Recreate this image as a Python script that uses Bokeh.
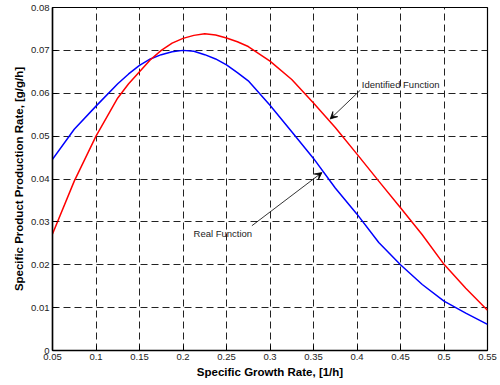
from bokeh.plotting import figure
from bokeh.models import Range1d, FixedTicker, PrintfTickFormatter, Arrow, VeeHead, Label
from bokeh.embed import file_html
from bokeh.resources import INLINE

# Specific growth rate [1/h]
mu = [0.05, 0.075, 0.10, 0.125, 0.1375, 0.15, 0.1625, 0.175, 0.1875, 0.20, 0.2125,
      0.225, 0.2375, 0.25, 0.2625, 0.275, 0.30, 0.325, 0.35, 0.375, 0.40, 0.425,
      0.45, 0.475, 0.50, 0.525, 0.55]
# Real function (blue)
real_fn = [0.0446, 0.0516, 0.0570, 0.0622, 0.0645, 0.0665, 0.0680, 0.0690, 0.0697,
           0.0700, 0.0698, 0.0690, 0.0680, 0.0666, 0.0648, 0.0629, 0.0572, 0.0510,
           0.0448, 0.0379, 0.0318, 0.0252, 0.0200, 0.0154, 0.0115, 0.0087, 0.0061]
# Identified function (red)
ident_fn = [0.0272, 0.0395, 0.0500, 0.0589, 0.0622, 0.0650, 0.0678, 0.0700, 0.0717,
            0.0728, 0.0735, 0.0739, 0.0736, 0.0729, 0.0720, 0.0709, 0.0675, 0.0632,
            0.0577, 0.0520, 0.0458, 0.0395, 0.0333, 0.0270, 0.0201, 0.0145, 0.0094]

x_ticks = [0.05, 0.1, 0.15, 0.2, 0.25, 0.3, 0.35, 0.4, 0.45, 0.5, 0.55]
y_ticks = [0.0, 0.01, 0.02, 0.03, 0.04, 0.05, 0.06, 0.07, 0.08]

FONT = "Liberation Sans"

p = figure(width=500, height=385, output_backend="svg", toolbar_location=None,
           x_range=Range1d(0.05, 0.55), y_range=Range1d(0.0, 0.08),
           min_border_left=52, min_border_right=13, min_border_top=7, min_border_bottom=35)
p.background_fill_color = "white"
p.border_fill_color = "white"
p.outline_line_color = "black"
p.outline_line_width = 1.2

for ax, ticks in ((p.xaxis[0], x_ticks), (p.yaxis[0], y_ticks)):
    ax.ticker = FixedTicker(ticks=ticks)
    ax.formatter = PrintfTickFormatter(format="%.6g")
    ax.major_tick_in = 5
    ax.major_tick_out = 0
    ax.minor_tick_line_color = None
    ax.axis_line_color = "black"
    ax.axis_line_width = 1.5
    ax.major_tick_line_color = "black"
    ax.major_label_text_font = FONT
    ax.major_label_text_font_size = "9.5px"
    ax.major_label_text_color = "#222222"
    ax.major_label_standoff = 3
    ax.axis_label_text_font = FONT
    ax.axis_label_text_font_size = "11.5px"
    ax.axis_label_text_font_style = "bold"
    ax.axis_label_text_color = "black"
    ax.axis_label_standoff = 3

p.xaxis.axis_label = "Specific Growth Rate, [1/h]"
p.yaxis.axis_label = "Specific Product Production Rate, [g/g/h]"

for g in (p.xgrid[0], p.ygrid[0]):
    g.grid_line_color = "#222222"
    g.grid_line_dash = "7 4"
    g.grid_line_width = 1
p.xgrid[0].ticker = FixedTicker(ticks=x_ticks)
p.ygrid[0].ticker = FixedTicker(ticks=y_ticks)

p.line(mu, real_fn, line_color="#0000ff", line_width=1.5)
p.line(mu, ident_fn, line_color="#ff0000", line_width=1.5)

# annotations
p.add_layout(Arrow(end=VeeHead(size=7, fill_color="black", line_color="black", line_width=0.8),
                   x_start=0.4037, y_start=0.0607, x_end=0.3692, y_end=0.0540,
                   line_color="black", line_width=0.8))
p.add_layout(Arrow(end=VeeHead(size=7, fill_color="black", line_color="black", line_width=0.8),
                   x_start=0.2792, y_start=0.0291, x_end=0.3597, y_end=0.0415,
                   line_color="black", line_width=0.8))
p.add_layout(Label(x=0.4056, y=0.0620, text="Identified Function", text_font=FONT,
                   text_font_size="9.5px", text_color="#222222", text_baseline="middle",
                   text_align="left"))
p.add_layout(Label(x=0.2121, y=0.0273, text="Real Function", text_font=FONT,
                   text_font_size="9.5px", text_color="#222222", text_baseline="middle",
                   text_align="left"))

open("out.html", "w").write(file_html(p, INLINE))
